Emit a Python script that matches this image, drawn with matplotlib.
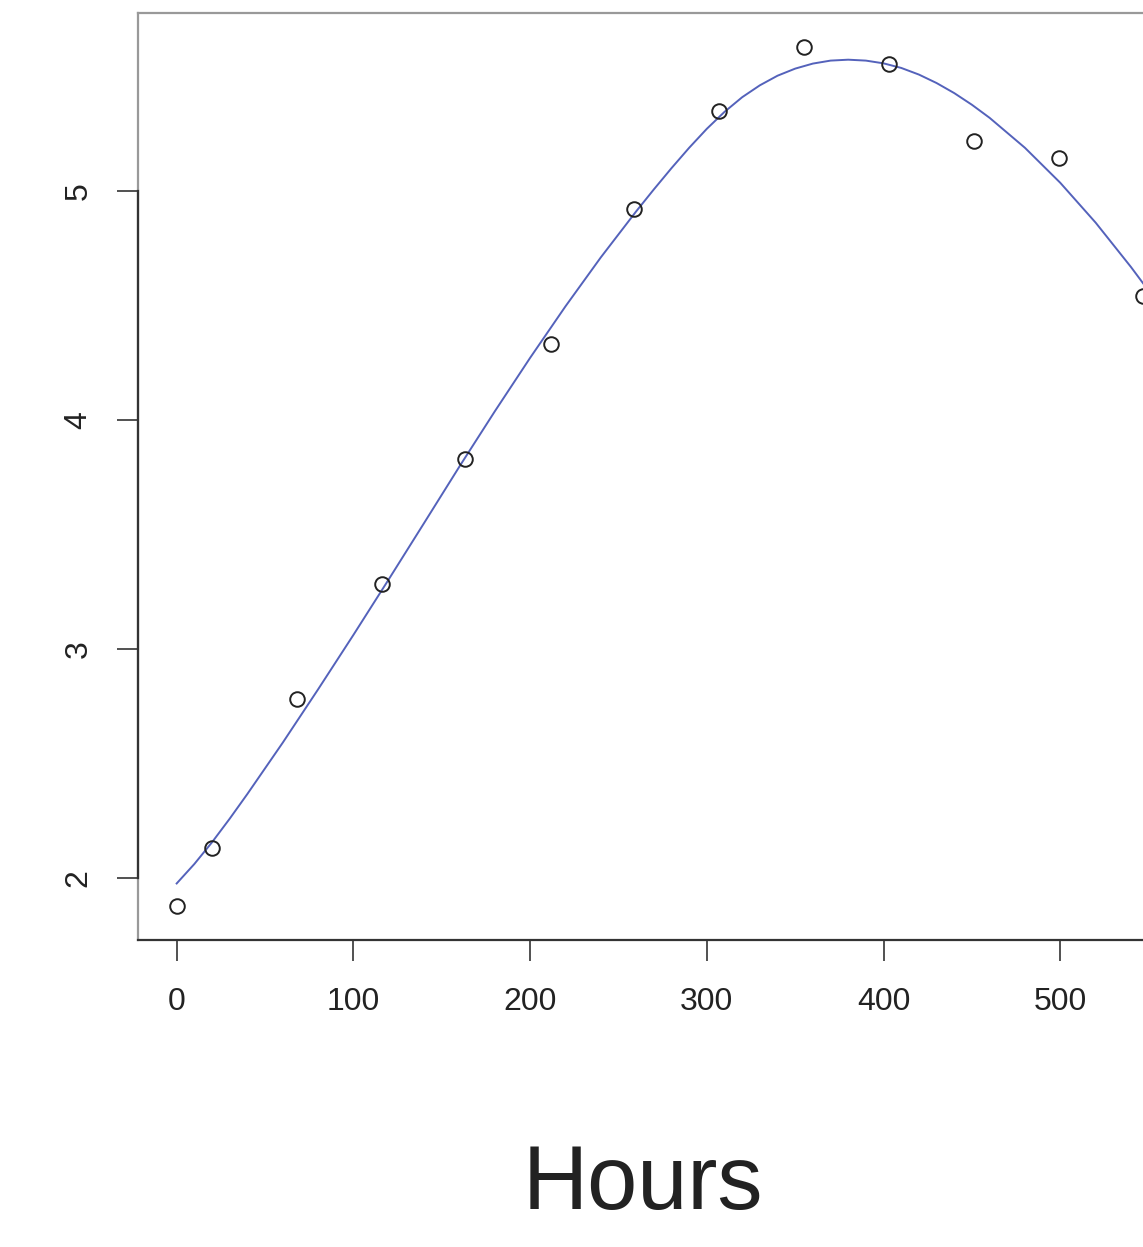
import matplotlib
matplotlib.use('Agg')
import matplotlib.pyplot as plt

plt.rcParams['font.family'] = ['Liberation Sans', 'DejaVu Sans']

hours = [0, 20, 68, 116, 163, 212, 259, 307, 355, 403, 451, 499, 547]
values = [1.878, 2.131, 2.782, 3.284, 3.830, 4.332, 4.921, 5.349, 5.629,
          5.555, 5.218, 5.144, 4.541]

# smooth trend line
trend_x = [0, 10, 20, 30, 40, 60, 80, 100, 120, 140, 160, 180, 200, 220,
           240, 260, 270, 280, 290, 300, 310, 320, 330, 340, 350, 360, 370,
           380, 390, 400, 410, 420, 430, 440, 450, 460, 480, 500, 520, 540,
           548]
trend_y = [1.975, 2.060, 2.155, 2.258, 2.366, 2.590, 2.823, 3.061, 3.304,
           3.550, 3.797, 4.038, 4.272, 4.497, 4.711, 4.912, 5.008, 5.101,
           5.190, 5.273, 5.347, 5.411, 5.463, 5.505, 5.536, 5.558, 5.571,
           5.575, 5.571, 5.559, 5.539, 5.510, 5.473, 5.429, 5.378, 5.321,
           5.190, 5.037, 4.863, 4.669, 4.586]

xticks = [0, 100, 200, 300, 400, 500]
yticks = [2, 3, 4, 5]

fig = plt.figure(figsize=(11.43, 12.47), dpi=100)
ax = fig.add_axes([138/1143, 307/1247, 1044/1143, 927/1247])

ax.plot(trend_x, trend_y, color='#5462bb', lw=1.4, solid_joinstyle='round')
ax.plot(hours, values, 'o', mfc='none', mec='#222222', ms=10.5, mew=1.4)

# R style range: 4% padding around the data
dx = (max(hours) - min(hours)) * 0.04
dy = (max(values) - min(values)) * 0.04
ax.set_xlim(min(hours) - dx, max(hours) + dx)
ax.set_ylim(min(values) - dy, max(values) + dy)

ax.set_xticks(xticks)
ax.set_yticks(yticks)
ax.set_xticklabels([str(t) for t in xticks])
ax.set_yticklabels([str(t) for t in yticks], rotation=90, va='center')
ax.tick_params(axis='both', length=15, width=1.2, color='#333333',
               labelsize=23, labelcolor='#222222')
ax.tick_params(axis='x', pad=19)
ax.tick_params(axis='y', pad=17)

for s in ['top', 'right']:
    ax.spines[s].set_color('#999999')
    ax.spines[s].set_linewidth(1.6)
ax.spines['bottom'].set_color('#333333')
ax.spines['bottom'].set_linewidth(1.6)
ax.spines['left'].set_color('#333333')
ax.spines['left'].set_linewidth(1.6)
ax.spines['left'].set_bounds(2, 5)
ax.plot([0, 0], [0, 1], transform=ax.transAxes, color='#999999', lw=1.6,
        clip_on=False, zorder=0)

fig.text(643/1143, 1 - 1186/1247, 'Hours', fontsize=65, ha='center',
         va='center', color='#222222')

plt.savefig('out.png', dpi=100)
